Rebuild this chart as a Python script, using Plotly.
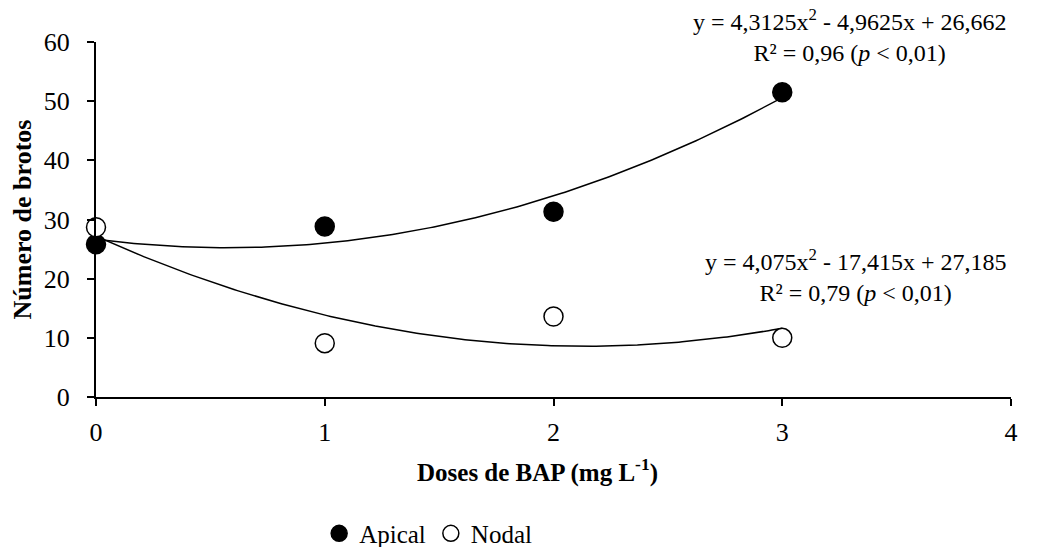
import numpy as np
import plotly.graph_objects as go

doses = [0, 1, 2, 3]
apical = [25.8, 28.8, 31.3, 51.5]
nodal = [28.7, 9.1, 13.6, 10.0]
apical_coef = [4.3125, -4.9625, 26.662]
nodal_coef = [4.075, -17.415, 27.185]
x_ticks = [0, 1, 2, 3, 4]
y_ticks = [0, 10, 20, 30, 40, 50, 60]

FONT = "Liberation Serif"
FS = 24
TS = 26

xs = np.linspace(0, 3, 200)
fig = go.Figure()
fig.add_trace(go.Scatter(x=xs, y=np.polyval(apical_coef, xs), mode="lines",
                         line=dict(color="black", width=1.5), showlegend=False, hoverinfo="skip"))
fig.add_trace(go.Scatter(x=xs, y=np.polyval(nodal_coef, xs), mode="lines",
                         line=dict(color="black", width=1.5), showlegend=False, hoverinfo="skip"))
fig.add_trace(go.Scatter(x=doses, y=apical, mode="markers", name="Apical",
                         marker=dict(symbol="circle", size=19, color="black",
                                     line=dict(color="black", width=1.5)),
                         cliponaxis=False))
fig.add_trace(go.Scatter(x=doses, y=nodal, mode="markers", name="Nodal",
                         marker=dict(symbol="circle", size=19, color="white",
                                     line=dict(color="black", width=1.5)),
                         cliponaxis=False))

fig.update_layout(
    width=1053, height=547,
    paper_bgcolor="white", plot_bgcolor="white",
    margin=dict(l=88, r=50, t=34, b=158, autoexpand=False),
    font=dict(family=FONT, size=FS, color="black"),
    showlegend=True,
    legend=dict(orientation="h", x=0.363, xanchor="center", y=-0.32, yanchor="top",
                font=dict(family=FONT, size=25), itemwidth=30, tracegroupgap=0),
    xaxis=dict(range=[0, 4], tickvals=x_ticks, showgrid=False, zeroline=False,
               showline=True, linecolor="black", linewidth=2,
               ticks="outside", ticklen=7, tickcolor="black", tickwidth=1.5,
               tickfont=dict(family=FONT, size=TS), ticklabelstandoff=4),
    yaxis=dict(range=[0, 60], tickvals=y_ticks, showgrid=False, zeroline=False,
               showline=True, linecolor="black", linewidth=2,
               ticks="outside", ticklen=7, tickcolor="black", tickwidth=1.5,
               tickfont=dict(family=FONT, size=TS), ticklabelstandoff=12,
               title=dict(text="<b>Número de brotos</b>",
                          font=dict(family=FONT, size=TS), standoff=10)),
)

fig.add_annotation(x=0.483, y=-0.206, xref="paper", yref="paper", showarrow=False,
                   text="<b>Doses de BAP (mg L<sup>-1</sup>)</b>",
                   font=dict(family=FONT, size=25), yanchor="middle", xanchor="center")
fig.add_annotation(x=3.296, y=1.017, xref="x", yref="paper", showarrow=False, align="center",
                   text="y = 4,3125x<sup>2</sup> - 4,9625x + 26,662<br>R² = 0,96 (<i>p</i> &lt; 0,01)",
                   font=dict(family=FONT, size=FS), yanchor="middle", xanchor="center")
fig.add_annotation(x=3.32, y=20.6, xref="x", yref="y", showarrow=False, align="center",
                   text="y = 4,075x<sup>2</sup> - 17,415x + 27,185<br>R² = 0,79 (<i>p</i> &lt; 0,01)",
                   font=dict(family=FONT, size=FS), yanchor="middle", xanchor="center")

fig.write_html("out.html")
